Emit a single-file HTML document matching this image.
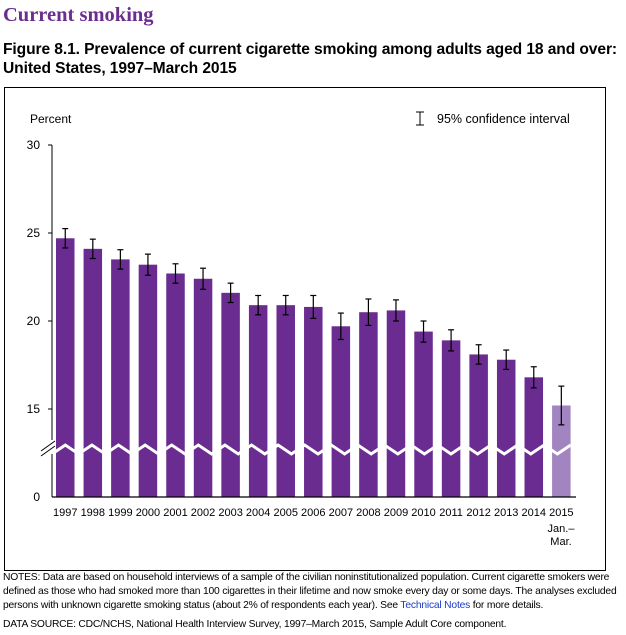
<!DOCTYPE html>
<html><head><meta charset="utf-8"><style>
body{margin:0;background:#fff;width:626px;height:635px;overflow:hidden;position:relative;font-family:"Liberation Sans",sans-serif}
.t{position:absolute;white-space:nowrap}
</style></head><body>
<div class="t" style="left:3px;top:4px;font-family:'Liberation Serif',serif;font-weight:bold;font-size:20.5px;color:#6b2d8f">Current smoking</div>
<div class="t" style="left:3px;top:40px;font-weight:bold;font-size:15.6px;line-height:19px;color:#000;letter-spacing:-0.1px">Figure 8.1. Prevalence of current cigarette smoking among adults aged 18 and over:<br>United States, 1997–March 2015</div>
<svg width="626" height="635" style="position:absolute;left:0;top:0" font-family="Liberation Sans, sans-serif">
<rect x="4.5" y="87.5" width="601" height="483" fill="none" stroke="#000" stroke-width="1"/>
<text x="30" y="123" font-size="12">Percent</text>
<line x1="420" y1="112" x2="420" y2="125" stroke="#000"/><line x1="416" y1="112" x2="424" y2="112" stroke="#000"/><line x1="416" y1="125" x2="424" y2="125" stroke="#000"/>
<text x="437" y="123" font-size="12.5">95% confidence interval</text>
<g font-size="12" text-anchor="end"><text x="40" y="149">30</text><text x="40" y="237">25</text><text x="40" y="325">20</text><text x="40" y="413">15</text><text x="40" y="501">0</text></g>
<g id="bars"></g>
<line x1="52" y1="145" x2="52" y2="497" stroke="#000"/>
<line x1="52" y1="497" x2="576" y2="497" stroke="#000" stroke-width="1.2"/>
<g stroke="#000"><line x1="48" y1="145" x2="52" y2="145"/><line x1="48" y1="233" x2="52" y2="233"/><line x1="48" y1="321" x2="52" y2="321"/><line x1="48" y1="409" x2="52" y2="409"/></g>
<rect x="44" y="440" width="10" height="14" fill="#fff"/>
<line x1="41" y1="451" x2="55" y2="441" stroke="#000"/><line x1="41" y1="456" x2="55" y2="446" stroke="#000"/>
<g font-size="11" text-anchor="middle" id="lbl"></g>
<text x="561" y="532" font-size="11" text-anchor="middle">Jan.–</text>
<text x="561" y="545" font-size="11" text-anchor="middle">Mar.</text>
</svg>
<div class="t" style="left:3px;top:571px;font-size:10.3px;line-height:14px;color:#000;letter-spacing:-0.2px">NOTES: Data are based on household interviews of a sample of the civilian noninstitutionalized population. Current cigarette smokers were<br>defined as those who had smoked more than 100 cigarettes in their lifetime and now smoke every day or some days. The analyses excluded<br>persons with unknown cigarette smoking status (about 2% of respondents each year). See <span style="color:#1a3cc8">Technical Notes</span> for more details.</div>
<div class="t" style="left:3px;top:619px;font-size:10.3px;color:#000;letter-spacing:-0.2px">DATA SOURCE: CDC/NCHS, National Health Interview Survey, 1997–March 2015, Sample Adult Core component.</div>
<script>
var v=[24.7,24.1,23.5,23.2,22.7,22.4,21.6,20.9,20.9,20.8,19.7,20.5,20.6,19.4,18.9,18.1,17.8,16.8,15.2];
var ci=[0.55,0.55,0.55,0.6,0.55,0.6,0.55,0.55,0.55,0.65,0.75,0.75,0.6,0.6,0.6,0.55,0.55,0.6,1.1];
var ns="http://www.w3.org/2000/svg",g=document.getElementById('bars'),L=document.getElementById('lbl');
function el(t,a,p){var e=document.createElementNS(ns,t);for(var k in a)e.setAttribute(k,a[k]);p.appendChild(e);return e;}
function Y(x){return 145+(30-x)*17.6;}
for(var i=0;i<19;i++){var x=56+i*27.56,y=Y(v[i]);
el('rect',{x:x,y:y,width:18.5,height:497-y,fill:i==18?'#a184c0':'#6a2c91'},g);}
var pts=[];for(var x=52;x<=575;x+=13.3){var k=Math.round((x-52)/13.3);pts.push(x+','+(k%2?445:454));}
el('polyline',{points:pts.join(' '),fill:'none',stroke:'#fff','stroke-width':3},g);
for(var i=0;i<19;i++){var cx=56+i*27.56+9.25,a=Y(v[i]+ci[i]),b=Y(v[i]-ci[i]);
el('line',{x1:cx,y1:a,x2:cx,y2:b,stroke:'#000','stroke-width':1.2},g);
el('line',{x1:cx-3,y1:a,x2:cx+3,y2:a,stroke:'#000','stroke-width':1.2},g);
el('line',{x1:cx-3,y1:b,x2:cx+3,y2:b,stroke:'#000','stroke-width':1.2},g);
var t=el('text',{x:cx,y:516},L);t.textContent=1997+i;}
</script>
</body></html>
